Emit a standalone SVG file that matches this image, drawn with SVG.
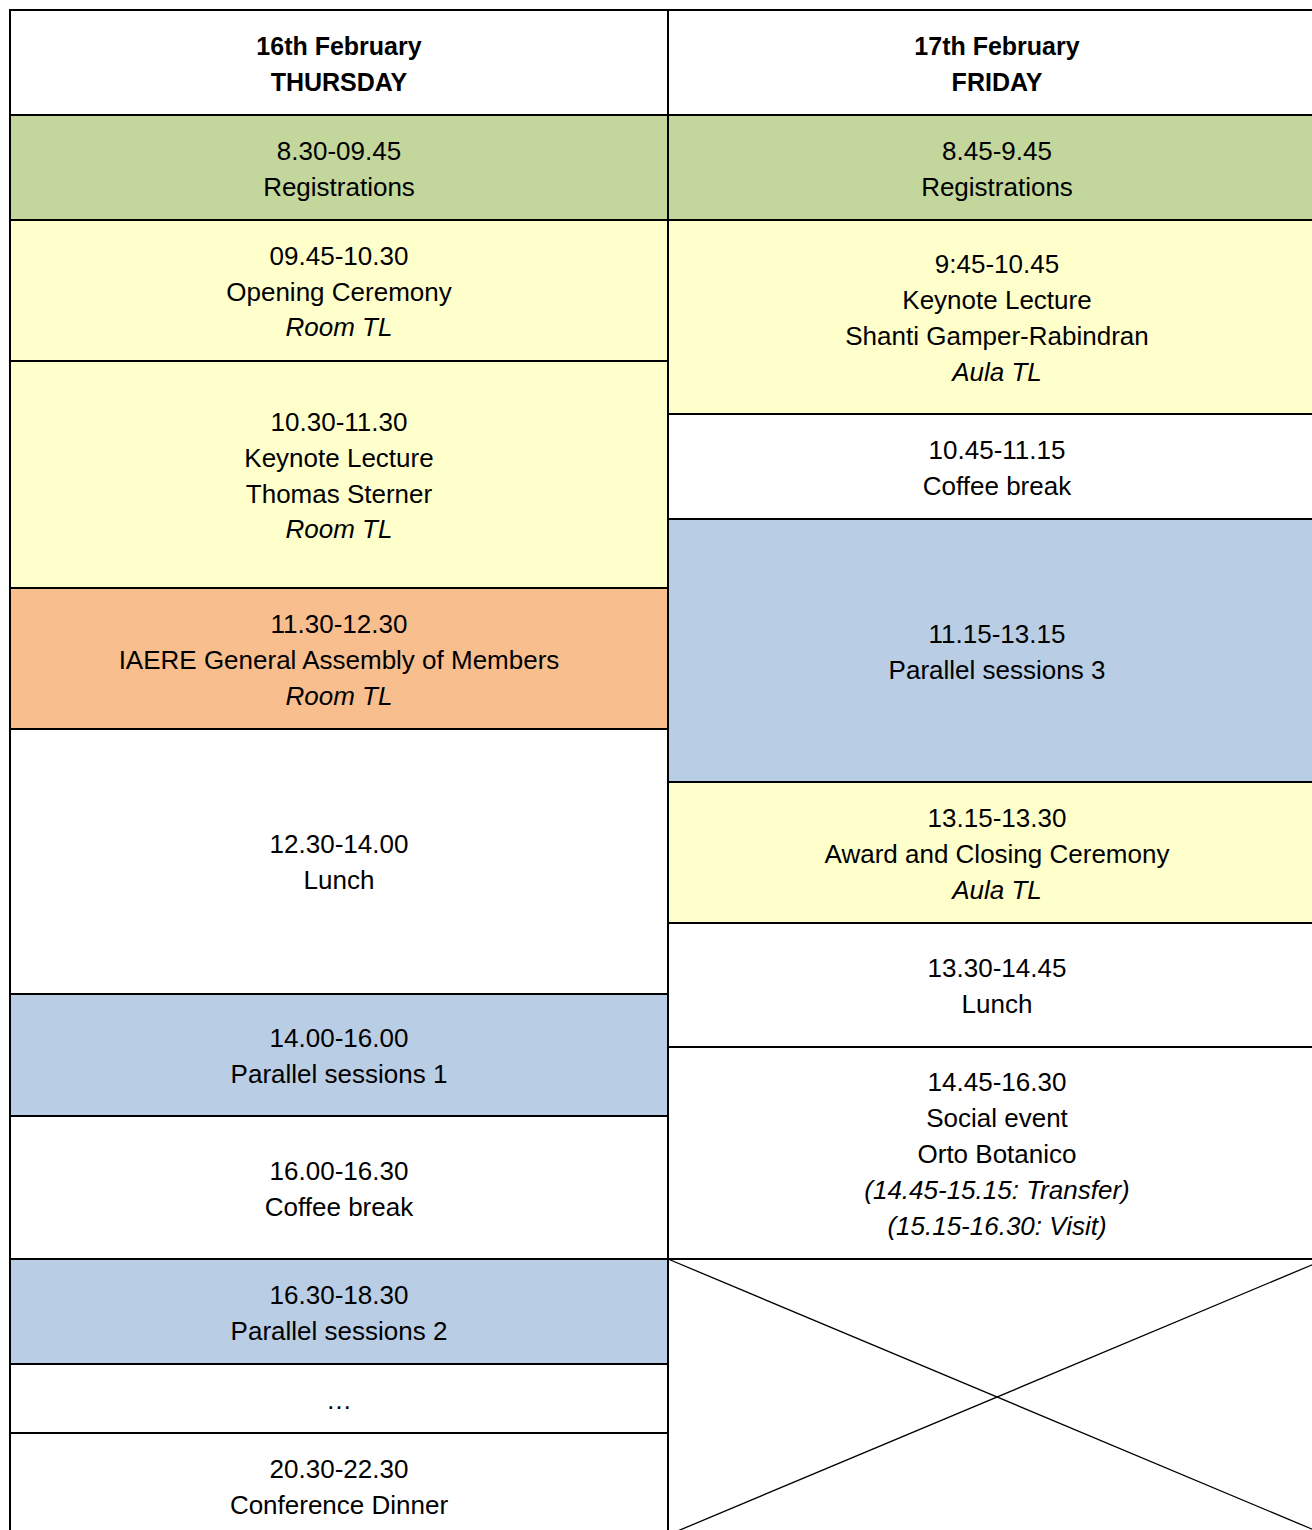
<svg xmlns="http://www.w3.org/2000/svg" width="1312" height="1530" viewBox="0 0 1312 1530">
<style>
.c{stroke:#000;stroke-width:2}
.w{fill:#fff}.g{fill:#C3D69B}.y{fill:#FFFFCC}.o{fill:#F8BE8E}.b{fill:#B9CDE5}
text{font-family:"Liberation Sans",Arial,sans-serif;font-size:26px;fill:#000;text-anchor:middle}
.h{font-weight:bold;font-size:25px}
.i{font-style:italic}
.x{stroke:#000;stroke-width:1.3;fill:none}
</style>
<rect width="1312" height="1530" fill="#fff"/>
<g id="left-col">
<g id="hdr-thu"><rect class="c w" x="10" y="10" width="658" height="105"/><text class="h" x="339" y="55">16th February</text><text class="h" x="339" y="91">THURSDAY</text></g>
<g id="thu-reg"><rect class="c g" x="10" y="115" width="658" height="105"/><text x="339" y="160">8.30-09.45</text><text x="339" y="196">Registrations</text></g>
<g id="thu-open"><rect class="c y" x="10" y="220" width="658" height="141"/><text x="339" y="265">09.45-10.30</text><text x="339" y="301">Opening Ceremony</text><text class="i" x="339" y="336">Room TL</text></g>
<g id="thu-key"><rect class="c y" x="10" y="361" width="658" height="227"/><text x="339" y="431">10.30-11.30</text><text x="339" y="467">Keynote Lecture</text><text x="339" y="503">Thomas Sterner</text><text class="i" x="339" y="538">Room TL</text></g>
<g id="thu-assembly"><rect class="c o" x="10" y="588" width="658" height="141"/><text x="339" y="633">11.30-12.30</text><text x="339" y="669">IAERE General Assembly of Members</text><text class="i" x="339" y="705">Room TL</text></g>
<g id="thu-lunch"><rect class="c w" x="10" y="729" width="658" height="265"/><text x="339" y="853">12.30-14.00</text><text x="339" y="889">Lunch</text></g>
<g id="thu-ps1"><rect class="c b" x="10" y="994" width="658" height="122"/><text x="339" y="1047">14.00-16.00</text><text x="339" y="1083">Parallel sessions 1</text></g>
<g id="thu-coffee"><rect class="c w" x="10" y="1116" width="658" height="143"/><text x="339" y="1180">16.00-16.30</text><text x="339" y="1216">Coffee break</text></g>
<g id="thu-ps2"><rect class="c b" x="10" y="1259" width="658" height="105"/><text x="339" y="1304">16.30-18.30</text><text x="339" y="1340">Parallel sessions 2</text></g>
<g id="thu-gap"><rect class="c w" x="10" y="1364" width="658" height="69"/><text x="339" y="1409">…</text></g>
<g id="thu-dinner"><rect class="c w" x="10" y="1433" width="658" height="110"/><text x="339" y="1478">20.30-22.30</text><text x="339" y="1514">Conference Dinner</text></g>
</g>
<g id="right-col">
<g id="hdr-fri"><rect class="c w" x="668" y="10" width="660" height="105"/><text class="h" x="997" y="55">17th February</text><text class="h" x="997" y="91">FRIDAY</text></g>
<g id="fri-reg"><rect class="c g" x="668" y="115" width="660" height="105"/><text x="997" y="160">8.45-9.45</text><text x="997" y="196">Registrations</text></g>
<g id="fri-key"><rect class="c y" x="668" y="220" width="660" height="194"/><text x="997" y="273">9:45-10.45</text><text x="997" y="309">Keynote Lecture</text><text x="997" y="345">Shanti Gamper-Rabindran</text><text class="i" x="997" y="381">Aula TL</text></g>
<g id="fri-coffee"><rect class="c w" x="668" y="414" width="660" height="105"/><text x="997" y="459">10.45-11.15</text><text x="997" y="495">Coffee break</text></g>
<g id="fri-ps3"><rect class="c b" x="668" y="519" width="660" height="263"/><text x="997" y="643">11.15-13.15</text><text x="997" y="679">Parallel sessions 3</text></g>
<g id="fri-award"><rect class="c y" x="668" y="782" width="660" height="141"/><text x="997" y="827">13.15-13.30</text><text x="997" y="863">Award and Closing Ceremony</text><text class="i" x="997" y="899">Aula TL</text></g>
<g id="fri-lunch"><rect class="c w" x="668" y="923" width="660" height="124"/><text x="997" y="977">13.30-14.45</text><text x="997" y="1013">Lunch</text></g>
<g id="fri-social"><rect class="c w" x="668" y="1047" width="660" height="212"/><text x="997" y="1091">14.45-16.30</text><text x="997" y="1127">Social event</text><text x="997" y="1163">Orto Botanico</text><text class="i" x="997" y="1199">(14.45-15.15: Transfer)</text><text class="i" x="997" y="1235">(15.15-16.30: Visit)</text></g>
<g id="fri-empty"><rect class="c w" x="668" y="1259" width="660" height="284"/></g>
</g>
<g id="connectors">
<line class="x" x1="668" y1="1259" x2="1326" y2="1535"/>
<line class="x" x1="1326" y1="1259" x2="668" y2="1535"/>
</g>
</svg>
